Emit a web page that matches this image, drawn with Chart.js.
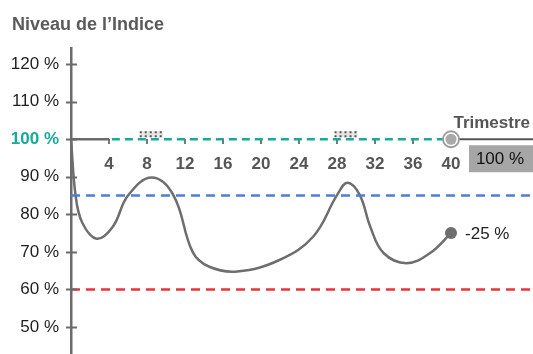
<!DOCTYPE html>
<html>
<head>
<meta charset="utf-8">
<script src="https://cdn.jsdelivr.net/npm/chart.js@4.4.1/dist/chart.umd.min.js"></script>
<style>
  html, body { margin: 0; padding: 0; background: #fff; }
  #wrap { width: 533px; height: 354px; position: relative; }
</style>
</head>
<body>
<div id="wrap"><canvas id="chart"></canvas></div>
<script>
// values
const quarters = [0, 0.5, 1.2, 2.7, 4.4, 6, 8.5, 10.8, 12.8, 14.5, 17.5, 22, 25.5, 28, 29.1, 30.4, 31.5, 32.9, 35.3, 37.8, 40];
const indexLevels = [100, 84.7, 77.7, 73.5, 76.7, 85, 89.8, 85, 70, 66.1, 64.8, 67.9, 74.1, 85.1, 88.4, 85.1, 76.7, 69.7, 67, 69.7, 75];
const xTicks = [4, 8, 12, 16, 20, 24, 28, 32, 36, 40];
const yTicks = [50, 60, 70, 80, 90, 100, 110, 120];
const baseLevel = 100;
const blueLevel = 85;
const redLevel = 60;
const markerQuarters = [8.5, 29];

const X_MAX = 48.63;
const teal = '#17a99a';
const axisGray = '#6b6b6b';
const font = "'Liberation Sans', Arial, sans-serif";

const line = (y, x0, x1) => [{ x: x0, y: y }, { x: x1, y: y }];

const decor = {
  id: 'decor',
  afterDatasetsDraw(chart) {
    const { ctx, scales: { x, y } } = chart;
    ctx.save();
    // y tick marks crossing the axis
    ctx.strokeStyle = axisGray;
    ctx.lineWidth = 2;
    for (const v of yTicks) {
      const py = Math.round(y.getPixelForValue(v)) + 0.5;
      ctx.beginPath();
      ctx.moveTo(x.left - 5, py);
      ctx.lineTo(x.left + 6, py);
      ctx.stroke();
    }
    const by = y.getPixelForValue(baseLevel);
    // small dotted marks near the peaks
    ctx.fillStyle = '#e6e6e6';
    ctx.strokeStyle = '#555';
    ctx.lineWidth = 2;
    ctx.setLineDash([2, 3]);
    for (const q of markerQuarters) {
      const px = x.getPixelForValue(q);
      ctx.fillRect(px - 11, by - 8, 22, 6);
      for (const dy of [-7, -3]) {
        ctx.beginPath();
        ctx.moveTo(px - 12, by + dy);
        ctx.lineTo(px + 12, by + dy);
        ctx.stroke();
      }
    }
    ctx.setLineDash([]);
    // hollow marker at the end of the base line
    const cx = x.getPixelForValue(40);
    ctx.beginPath();
    ctx.arc(cx, by, 8, 0, Math.PI * 2);
    ctx.fillStyle = '#fff';
    ctx.fill();
    ctx.strokeStyle = '#9a9a9a';
    ctx.lineWidth = 1.8;
    ctx.stroke();
    ctx.beginPath();
    ctx.arc(cx, by, 5.5, 0, Math.PI * 2);
    ctx.fillStyle = '#a9a9a9';
    ctx.fill();
    // labels
    ctx.fillStyle = '#555';
    ctx.font = 'bold 17px ' + font;
    ctx.textAlign = 'right';
    ctx.textBaseline = 'alphabetic';
    ctx.fillText('Trimestre', chart.chartArea.right - 3, by - 11);
    ctx.fillStyle = '#a6a6a6';
    ctx.fillRect(469, by + 6, chart.chartArea.right - 469, 27);
    ctx.fillStyle = '#111';
    ctx.font = '17px ' + font;
    ctx.textAlign = 'center';
    ctx.textBaseline = 'middle';
    ctx.fillText('100 %', 500, by + 20);
    const last = indexLevels.length - 1;
    ctx.textAlign = 'left';
    ctx.fillStyle = '#222';
    ctx.fillText('-25 %', x.getPixelForValue(quarters[last]) + 14, y.getPixelForValue(indexLevels[last]) + 1);
    // title
    ctx.fillStyle = '#5a5a5a';
    ctx.font = 'bold 18px ' + font;
    ctx.textBaseline = 'alphabetic';
    ctx.fillText('Niveau de l\u2019Indice', 12, 30);
    ctx.restore();
  }
};

new Chart(document.getElementById('chart'), {
  type: 'line',
  data: {
    datasets: [
      { data: line(redLevel, 0, X_MAX), borderColor: '#e8343d', borderWidth: 2.5, borderDash: [9, 6], pointRadius: 0 },
      { data: line(blueLevel, 0, X_MAX), borderColor: '#4e80cf', borderWidth: 2.5, borderDash: [9, 6], pointRadius: 0 },
      { data: line(baseLevel, 0, 4), borderColor: axisGray, borderWidth: 2.5, pointRadius: 0 },
      { data: line(baseLevel, 4.3, 40), borderColor: teal, borderWidth: 2.5, borderDash: [8, 5], pointRadius: 0 },
      { data: line(baseLevel, 40, X_MAX), borderColor: '#555', borderWidth: 2, pointRadius: 0 },
      {
        data: quarters.map((q, i) => ({ x: q, y: indexLevels[i] })),
        borderColor: '#6e6e6e',
        borderWidth: 2.5,
        tension: 0.4,
        pointRadius: (c) => c.dataIndex === quarters.length - 1 ? 6 : 0,
        pointBackgroundColor: '#6e6e6e',
        pointBorderWidth: 0,
        clip: false
      }
    ]
  },
  options: {
    responsive: true,
    maintainAspectRatio: false,
    animation: false,
    events: [],
    layout: { autoPadding: false, padding: { top: 48, left: 0, right: 0, bottom: 0 } },
    plugins: { legend: { display: false }, tooltip: { enabled: false }, title: { display: false } },
    scales: {
      x: {
        type: 'linear',
        min: 0,
        max: X_MAX,
        position: { y: baseLevel },
        afterBuildTicks: (s) => { s.ticks = xTicks.map(v => ({ value: v })); },
        afterFit: (s) => { s.height = 0; s.paddingLeft = 0; s.paddingRight = 0; },
        border: { display: false },
        grid: { drawOnChartArea: false, drawTicks: true, tickLength: 5, color: '#777', lineWidth: 2 },
        ticks: {
          color: '#555',
          padding: 10,
          maxRotation: 0,
          font: { family: font, size: 17, weight: 'bold' }
        }
      },
      y: {
        min: 42.8,
        max: 124.3,
        afterBuildTicks: (s) => { s.ticks = yTicks.map(v => ({ value: v })); },
        afterFit: (s) => { s.width = 71; s.paddingTop = 0; s.paddingBottom = 0; },
        border: { display: true, color: axisGray, width: 2.5 },
        grid: { display: false, drawTicks: false },
        ticks: {
          padding: 12,
          color: (c) => c.tick.value === 100 ? teal : '#1e1e1e',
          font: (c) => ({ family: font, size: 17, weight: c.tick && c.tick.value === 100 ? 'bold' : 'normal' }),
          callback: (v) => v + ' %'
        }
      }
    }
  },
  plugins: [decor]
});
</script>
</body>
</html>
